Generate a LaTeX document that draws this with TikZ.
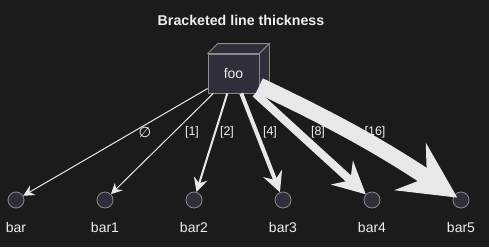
\documentclass[tikz,border=0pt]{standalone}
\usepackage{fontspec}
\setmainfont{Liberation Sans}
\newfontfamily\symfnt{DejaVu Sans}
\usetikzlibrary{arrows.meta}

\definecolor{bgcol}{HTML}{1B1B1B}
\definecolor{boxfill}{HTML}{2F2F3B}
\definecolor{boxline}{HTML}{8A8A8A}
\definecolor{edgecol}{HTML}{E8E8E8}
\definecolor{txtcol}{HTML}{EEEEEE}

\tikzset{
  thing/.style={draw=boxline, fill=boxfill, line width=0.8pt},
  ball/.style={thing, circle, minimum size=16pt, inner sep=0pt},
  txt/.style={text=txtcol, font=\fontsize{14}{16}\selectfont, inner sep=0pt},
  lbl/.style={text=txtcol, font=\fontsize{12.5}{14}\selectfont, inner sep=0pt},
  link/.style={draw=edgecol, -{Stealth[length=8pt 3, width'=0pt 1, inset'=0pt 0.35]}},
}

\begin{document}
\begin{tikzpicture}[x=1pt, y=-1pt]
  % fondo
  \fill[bgcol] (0,0) rectangle (489,247);
  \useasboundingbox (0,0) rectangle (489,247);
  \node[text=txtcol, font=\bfseries\fontsize{14.2}{16}\selectfont] (title) at (241,20) {Bracketed line thickness};

  % caja 3D
  \node[thing, minimum width=51pt, minimum height=39pt, txt] (foo) at (233.5,73.5) {foo};
  \filldraw[thing] (foo.north west) -- ++(10,-10) -- ([shift={(10,-10)}]foo.north east) -- (foo.north east) -- cycle;
  \filldraw[thing] (foo.north east) -- ++(10,-10) -- ([shift={(10,-10)}]foo.south east) -- (foo.south east) -- cycle;

  % destinos
  \node[ball] (bar)  at (16,200) {};
  \node[ball] (bar1) at (105,200) {};
  \node[ball] (bar2) at (194,200) {};
  \node[ball] (bar3) at (283,200) {};
  \node[ball] (bar4) at (372,200) {};
  \node[ball] (bar5) at (461,200) {};
  \node[txt] (tbar)  at (16,227) {bar};
  \node[txt] (tbar1) at (105,227) {bar1};
  \node[txt] (tbar2) at (194,227) {bar2};
  \node[txt] (tbar3) at (283,227) {bar3};
  \node[txt] (tbar4) at (372,227) {bar4};
  \node[txt] (tbar5) at (461,227) {bar5};

  % conexiones
  \draw[link, line width=1pt]  (foo) -- (bar);
  \draw[link, line width=1pt]  (foo) -- (bar1);
  \draw[link, line width=2pt]  (foo) -- (bar2);
  \draw[link, line width=4pt]  (foo) -- (bar3);
  \draw[link, line width=8pt]  (foo) -- (bar4);
  \draw[link, line width=16pt, shorten >=-4pt] (foo) to[bend left=4] (bar5);

  % grosores
  \node[lbl] (w0)  at (145,132) {\symfnt\fontsize{14.5}{16}\selectfont ∅};
  \node[lbl] (w1)  at (192,132) {[1]};
  \node[lbl] (w2)  at (227,132) {[2]};
  \node[lbl] (w4)  at (270,132) {[4]};
  \node[lbl] (w8)  at (318,132) {[8]};
  \node[lbl] (w16) at (375,132) {[16]};
\end{tikzpicture}
\end{document}
